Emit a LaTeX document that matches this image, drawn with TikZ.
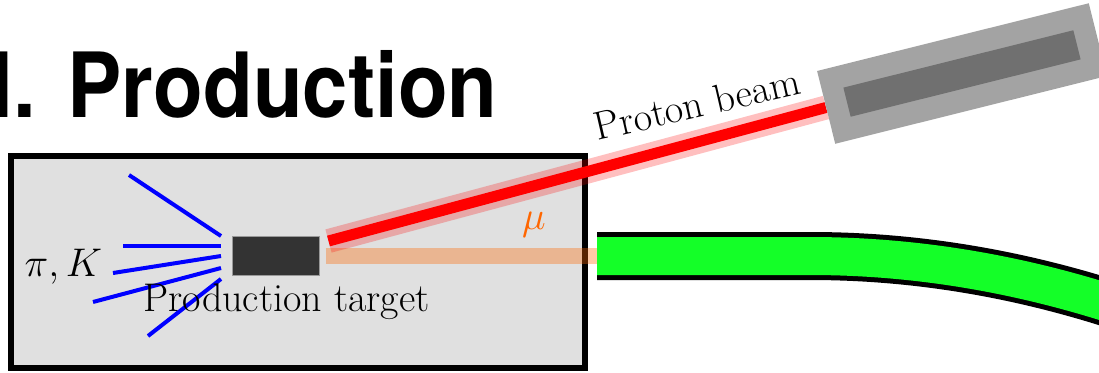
\RequirePackage{fix-cm}
\documentclass[tikz,border=0pt]{standalone}
\usepackage{fontspec}
\newfontfamily\headfont{TeX Gyre Heros}
\usepackage{xcolor}
\definecolor{hallgray}{RGB}{224,224,224}
\definecolor{targetdark}{RGB}{51,51,51}
\definecolor{sourcegray}{RGB}{163,163,163}
\definecolor{sourcedark}{RGB}{112,112,112}
\definecolor{muonorange}{RGB}{255,102,0}
\definecolor{solgreen}{RGB}{20,255,40}
\usepackage{tikz}
\usetikzlibrary{positioning,calc}

\begin{document}
\begin{tikzpicture}[x=1pt,y=-1pt,font=\fontsize{40}{44}\selectfont,
    target/.style={rectangle,fill=targetdark,draw=gray!80,line width=1pt,inner sep=0pt,minimum width=87pt,minimum height=39pt},
    srcouter/.style={rectangle,fill=sourcegray,inner sep=0pt,minimum width=280pt,minimum height=75pt,rotate=14},
    srcinner/.style={rectangle,fill=sourcedark,inner sep=0pt,minimum width=237pt,minimum height=30pt,rotate=14},
    ray/.style={blue,line width=4pt}]
  \useasboundingbox (0,0) rectangle (1099,372);
  % Titel
  \node[anchor=base west,inner sep=0pt,xscale=0.905,font=\headfont\bfseries\fontsize{90}{90}\selectfont] (title) at (-9.4,117) {I.\hspace{0.11em} Production};
  % Halle
  \draw[fill=hallgray,line width=6pt] (11,156) rectangle (585,368);
  \node[target] (target) at (275.5,255.5) {};
  \coordinate (pstart) at ($(target.east)+(9,-14.5)$);
  \coordinate (beamend) at (826,107.5);
  \coordinate (tubein) at (597,256);
  % Myonen
  \draw[muonorange,opacity=0.35,line width=16pt] ($(target.east)+(6,0.5)$) -- (tubein);
  % Protonenstrahl
  \draw[red,opacity=0.25,line width=24pt] (pstart) -- (beamend);
  \draw[red,line width=11pt] (pstart) -- (beamend);
  \node[srcouter] (source) at (962,73.5) {};
  \node[srcinner] (sourcecore) at (source.center) {};
  % Solenoid
  \draw[line width=48pt] (tubein) -- (810,256) .. controls (916.7,256) and (1023.3,274) .. (1130,310);
  \draw[solgreen,line width=38pt] (tubein) -- (810,256) .. controls (916.7,256) and (1023.3,274) .. (1130,310);
  % Pionen, Kaonen
  \foreach \sx/\sy/\ey in {129/175/236, 123/246/246, 113/273/256, 93/302/268, 148/336/279}
    \draw[ray] (\sx,\sy) -- (221,\ey);
  % Beschriftung
  \node[anchor=base] (pik) at (63.4,276.5) {$\pi, K$};
  \node[anchor=base] (tlabel) at (286.5,311) {Production target};
  \node[anchor=base,text=muonorange] (mulabel) at (534,229) {$\mu$};
  \node[rotate=13] (beamlabel) at (697,104) {Proton beam};
\end{tikzpicture}
\end{document}
